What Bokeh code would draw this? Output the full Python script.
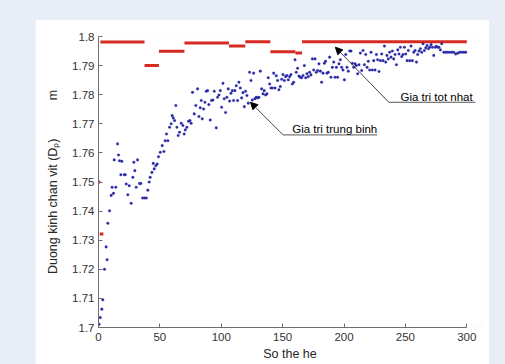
from bokeh.plotting import figure
from bokeh.models import Label, Arrow, NormalHead, FixedTicker, GlobalInlineStyleSheet
from bokeh.embed import file_html
from bokeh.resources import INLINE

# ---------------- data ----------------
x_ticks = [0, 50, 100, 150, 200, 250, 300]
y_ticks = [1.7, 1.71, 1.72, 1.73, 1.74, 1.75, 1.76, 1.77, 1.78, 1.79, 1.8]
y_tick_labels = ["1.7", "1.71", "1.72", "1.73", "1.74", "1.75", "1.76", "1.77", "1.78", "1.79", "1.8"]
x_title = "So the he"
y_title = "Duong kinh chan vit (D\u209a)"
y_unit = "m"

# best value (Gia tri tot nhat): piecewise constant segments
best_start = [0.0, 1.0, 1.5, 37.5, 49.2, 70.0, 106.3, 119.6, 140.0, 160.4, 165.8]
best_end   = [1.5, 4.0, 37.5, 49.2, 70.0, 106.3, 119.6, 140.0, 160.4, 165.8, 300.0]
best_value = [1.7500, 1.7321, 1.7981, 1.7900, 1.7949, 1.7978, 1.7967, 1.7982, 1.7948, 1.7943, 1.7982]

# mean value (Gia tri trung binh)
gen = [0.5, 1.4, 2.7, 3.5, 4.9, 6.2, 7.0, 7.6, 9.0, 10.3, 11.1, 12.2, 12.8, 14.1, 15.5, 16.3,
       17.1, 18.2, 19.0, 21.0, 21.8, 22.6, 23.9, 25.0, 26.6, 28.0, 28.8, 29.6, 30.7, 31.8, 33.4,
       34.5, 36.0, 37.5, 38.9, 40.2, 41.3, 42.1, 43.5, 44.6, 45.4, 46.7, 47.8, 48.9, 50.3, 51.9,
       53.3, 54.3, 55.4, 56.5, 57.9, 59.2, 60.0, 60.9, 62.0, 63.0, 63.9, 64.9, 66.0, 67.4, 68.8,
       69.8, 70.7, 72.0, 73.4, 74.5, 75.5, 76.6, 78.0, 79.3, 80.7, 81.8, 82.9, 83.7, 84.5, 85.6,
       86.7, 87.8, 88.9, 89.9, 91.0, 92.1, 93.2, 94.3, 95.9, 97.0, 98.1, 99.2, 100.3, 101.4,
       102.4, 103.5, 104.6, 105.7, 106.8, 107.9, 109.0, 110.0, 111.1, 112.2, 113.3, 114.4, 115.5,
       116.6, 117.7, 118.8, 119.8, 120.9, 122.0, 123.1, 124.2, 125.3, 126.4, 127.4, 128.5, 129.6,
       130.7, 131.8, 132.9, 134.0, 135.0, 136.1, 137.2, 138.3, 139.4, 140.5, 141.6, 142.7, 143.8,
       144.8, 145.9, 147.0, 148.1, 149.2, 150.3, 151.4, 152.4, 153.5, 154.6, 155.7, 156.8, 157.9,
       159.0, 160.1, 161.1, 162.2, 163.3, 164.4, 165.5, 166.6, 167.7, 168.8, 169.8, 170.9, 172.0,
       173.1, 174.2, 175.3, 176.4, 177.4, 178.5, 179.6, 180.7, 181.8, 182.9, 184.0, 185.0, 186.1,
       187.2, 188.3, 189.4, 190.5, 191.6, 192.7, 193.8, 194.8, 195.9, 197.0, 198.1, 199.2, 200.3,
       201.4, 202.4, 203.5, 204.6, 205.7, 206.8, 207.9, 209.0, 210.0, 211.1, 212.2, 213.3, 214.4,
       215.5, 216.6, 217.7, 218.8, 219.8, 220.9, 222.0, 223.1, 224.2, 225.3, 226.4, 227.4, 228.5,
       229.6, 230.7, 231.8, 232.9, 234.0, 235.0, 236.1, 237.2, 238.3, 239.4, 240.5, 241.6, 242.7,
       243.8, 244.8, 245.9, 247.0, 248.1, 249.2, 250.3, 251.4, 252.4, 253.5, 254.6, 255.7, 256.8,
       257.9, 259.0, 260.0, 261.1, 262.2, 263.3, 264.4, 265.5, 266.6, 267.7, 268.8, 269.8, 270.9,
       272.0, 273.1, 274.2, 275.3, 276.4, 277.4, 278.5, 279.6, 281.3, 282.9, 284.5, 286.1, 287.8,
       289.4, 291.0, 292.7, 294.3, 295.9, 297.6, 299.2]
mean_value = [1.7011, 1.7034, 1.7063, 1.7095, 1.7200, 1.7277, 1.7233, 1.7358, 1.7401, 1.7454,
              1.7482, 1.7461, 1.7576, 1.7482, 1.7631, 1.7593, 1.7573, 1.7525, 1.7571, 1.7525,
              1.7525, 1.7493, 1.7456, 1.7487, 1.7427, 1.7516, 1.7568, 1.7539, 1.7482, 1.7576,
              1.7495, 1.7495, 1.7445, 1.7445, 1.7445, 1.7472, 1.7500, 1.7516, 1.7533, 1.7564,
              1.7545, 1.7556, 1.7562, 1.7587, 1.7602, 1.7625, 1.7605, 1.7642, 1.7665, 1.7642,
              1.7688, 1.7700, 1.7728, 1.7720, 1.7711, 1.7763, 1.7688, 1.7660, 1.7671, 1.7702,
              1.7694, 1.7665, 1.7679, 1.7688, 1.7709, 1.7711, 1.7702, 1.7808, 1.7734, 1.7763,
              1.7820, 1.7725, 1.7755, 1.7780, 1.7717, 1.7751, 1.7774, 1.7812, 1.7814, 1.7766,
              1.7713, 1.7780, 1.7782, 1.7812, 1.7686, 1.7791, 1.7799, 1.7814, 1.7757, 1.7839,
              1.7786, 1.7739, 1.7791, 1.7820, 1.7778, 1.7805, 1.7814, 1.7780, 1.7814, 1.7831,
              1.7780, 1.7843, 1.7823, 1.7789, 1.7807, 1.7759, 1.7812, 1.7797, 1.7771, 1.7877,
              1.7849, 1.7782, 1.7874, 1.7786, 1.7791, 1.7789, 1.7791, 1.7881, 1.7820, 1.7803,
              1.7814, 1.7799, 1.7803, 1.7858, 1.7837, 1.7823, 1.7823, 1.7874, 1.7823, 1.7865,
              1.7849, 1.7817, 1.7828, 1.7853, 1.7869, 1.7849, 1.7862, 1.7866, 1.7851, 1.7862,
              1.7869, 1.7837, 1.7843, 1.7920, 1.7877, 1.7891, 1.7864, 1.7860, 1.7858, 1.7866,
              1.7900, 1.7858, 1.7872, 1.7862, 1.7877, 1.7868, 1.7923, 1.7885, 1.7923, 1.7877,
              1.7883, 1.7906, 1.7881, 1.7843, 1.7874, 1.7908, 1.7915, 1.7874, 1.7877, 1.7929,
              1.7860, 1.7894, 1.7912, 1.7860, 1.7894, 1.7860, 1.7906, 1.7920, 1.7894, 1.7885,
              1.7851, 1.7938, 1.7894, 1.7881, 1.7950, 1.7950, 1.7908, 1.7894, 1.7906, 1.7900,
              1.7872, 1.7903, 1.7943, 1.7883, 1.7952, 1.7903, 1.7938, 1.7894, 1.7915, 1.7885,
              1.7946, 1.7885, 1.7917, 1.7885, 1.7938, 1.7920, 1.7880, 1.7917, 1.7940, 1.7917,
              1.7967, 1.7912, 1.7935, 1.7923, 1.7946, 1.7929, 1.7950, 1.7923, 1.7938, 1.7903,
              1.7954, 1.7940, 1.7963, 1.7931, 1.7938, 1.7963, 1.7940, 1.7917, 1.7952, 1.7917,
              1.7967, 1.7917, 1.7946, 1.7952, 1.7912, 1.7938, 1.7950, 1.7958, 1.7946, 1.7975,
              1.7952, 1.7961, 1.7969, 1.7958, 1.7963, 1.7972, 1.7963, 1.7935, 1.7963, 1.7966,
              1.7963, 1.7963, 1.7954, 1.7975, 1.7946, 1.7946, 1.7946, 1.7946, 1.7946, 1.7946,
              1.7940, 1.7943, 1.7946, 1.7946, 1.7946, 1.7946]

# ---------------- figure ----------------
BG = "#e8eef6"
FONT = "Liberation Sans"
NBSP = "\u00a0"

p = figure(width=454, height=345, x_range=(0, 312), y_range=(1.7, 1.8),
           output_backend="svg", toolbar_location=None,
           min_border_left=63, min_border_right=8, min_border_top=17, min_border_bottom=37)
p.margin = (19, 0, 0, 35)
p.stylesheets = [GlobalInlineStyleSheet(css="body{background-color:%s;}" % BG)]
p.background_fill_color = "white"
p.border_fill_color = "white"
p.outline_line_color = None
p.grid.visible = False

for ax in (p.xaxis, p.yaxis):
    ax.axis_line_color = "#6e6e6e"
    ax.major_tick_line_color = "#6e6e6e"
    ax.major_tick_in = 4
    ax.major_tick_out = 0
    ax.minor_tick_line_color = None
    ax.major_label_text_font = FONT
    ax.major_label_text_font_size = "11.5px"
    ax.major_label_text_color = "#333333"
    ax.axis_label_text_font = FONT
    ax.axis_label_text_font_style = "normal"
    ax.axis_label_text_color = "#262626"
    ax.axis_label_text_font_size = "12.5px"

p.xaxis.ticker = FixedTicker(ticks=x_ticks)
p.xaxis.bounds = (0, 300)
p.xaxis.major_label_standoff = 5
p.xaxis.axis_label = x_title
p.xaxis.axis_label_standoff = 3

p.yaxis.ticker = FixedTicker(ticks=y_ticks)
p.yaxis.major_label_overrides = {t: l for t, l in zip(y_ticks, y_tick_labels)}
p.yaxis.bounds = (1.7, 1.8)
p.yaxis.major_label_standoff = 4
p.yaxis.axis_label = y_title + NBSP * 11 + y_unit
p.yaxis.axis_label_standoff = 9

# best value
p.segment(x0=best_start, x1=best_end, y0=best_value, y1=best_value,
          line_color="#d62a22", line_width=3, line_cap="butt")

# mean value
p.scatter(gen, mean_value, size=2.6, marker="circle",
          fill_color="#2a2aa6", line_color="#2a2aa6", line_width=0.3)

# annotations
p.segment(x0=236.5, y0=1.7774, x1=307.1, y1=1.7774, line_color="#555555", line_width=1)
p.add_layout(Arrow(end=NormalHead(size=7, fill_color="black", line_color="black"),
                   x_start=236.5, y_start=1.7774, x_end=193.0, y_end=1.7963,
                   line_color="#444444", line_width=1))
p.add_layout(Label(x=246.0, y=1.77936, text="Gia tri tot nhat", text_font=FONT,
                   text_font_size="11.5px", text_color="black", text_baseline="middle",
                   text_align="left"))

p.segment(x0=150.4, y0=1.76618, x1=227.0, y1=1.76618, line_color="#555555", line_width=1)
p.add_layout(Arrow(end=NormalHead(size=7, fill_color="black", line_color="black"),
                   x_start=150.4, y_start=1.76618, x_end=123.8, y_end=1.7774,
                   line_color="#444444", line_width=1))
p.add_layout(Label(x=157.8, y=1.76825, text="Gia tri trung binh", text_font=FONT,
                   text_font_size="11.5px", text_color="black", text_baseline="middle",
                   text_align="left"))

open("out.html", "w").write(file_html(p, INLINE))
